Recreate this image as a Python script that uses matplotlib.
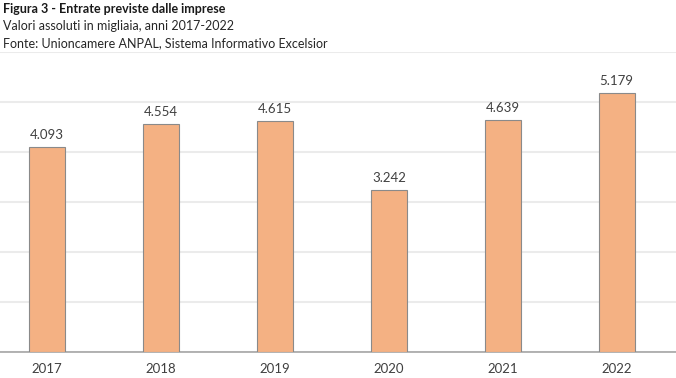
import matplotlib.pyplot as plt

# Dati (migliaia)
anni = ['2017', '2018', '2019', '2020', '2021', '2022']
entrate = [4093, 4554, 4615, 3242, 4639, 5179]

plt.rcParams['font.family'] = ['Lato', 'DejaVu Sans']

fig = plt.figure(figsize=(6.76, 3.78), dpi=100)
ax = fig.add_axes([0.0, 0.0688, 1.0, 0.7937])

x = range(len(anni))
bars = ax.bar(x, entrate, width=0.32, color='#F4B183', edgecolor='#8a8a8a',
              linewidth=0.8, zorder=3)

for xi, v in zip(x, entrate):
    ax.text(xi, v + 120, f'{v:,}'.replace(',', '.'), ha='center', va='bottom',
            fontsize=9.5, color='#404040')

ax.set_ylim(0, 6000)
ax.set_xlim(-0.412, 5.52)
ax.set_yticks(range(0, 6001, 1000))
ax.yaxis.grid(True, color='#ebebeb', linewidth=1.5, zorder=0)
ax.tick_params(axis='y', left=False, labelleft=False)
ax.tick_params(axis='x', length=0, labelsize=9.5, labelcolor='#404040', pad=8)
ax.set_xticks(list(x))
ax.set_xticklabels(anni)
for s in ['top', 'right', 'left']:
    ax.spines[s].set_visible(False)
ax.spines['bottom'].set_color('#a6a6a6')
ax.spines['bottom'].set_linewidth(1.2)

# Titoli
fig.text(0.005, 0.993, 'Figura 3 - Entrate previste dalle imprese', fontsize=9,
         fontweight='bold', va='top', ha='left', color='#1a1a1a')
fig.text(0.005, 0.947, 'Valori assoluti in migliaia, anni 2017-2022', fontsize=9,
         va='top', ha='left', color='#262626')
fig.text(0.005, 0.903, 'Fonte: Unioncamere ANPAL, Sistema Informativo Excelsior',
         fontsize=9, va='top', ha='left', color='#262626')

fig.savefig('out.png', dpi=100)
